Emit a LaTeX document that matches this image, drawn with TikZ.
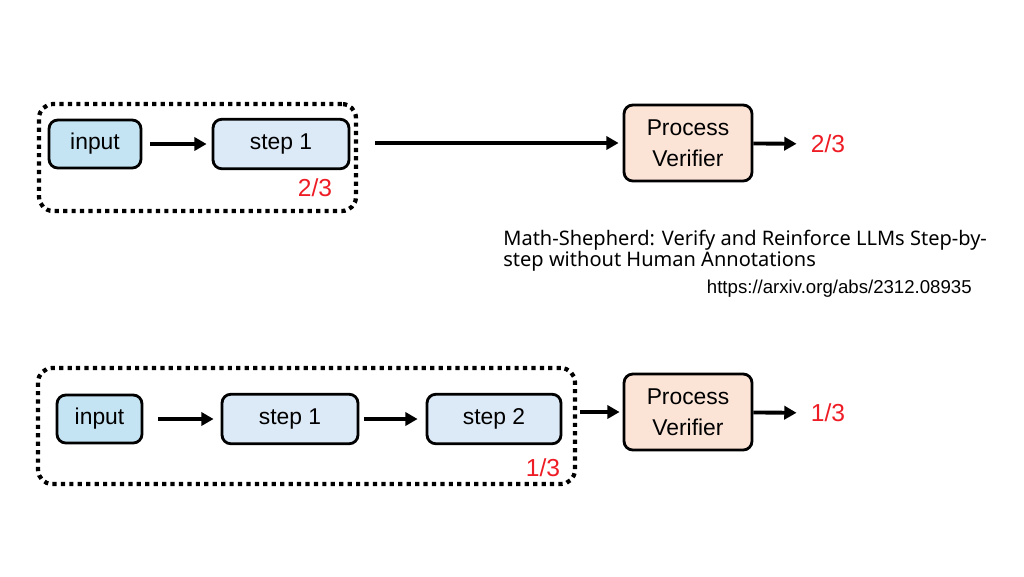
\documentclass[tikz,border=0pt]{standalone}
\usepackage{fontspec}
\setmainfont{Liberation Sans}
\newfontfamily\notefont{Noto Sans}
\usetikzlibrary{arrows.meta}
\usepackage{xcolor}
\definecolor{inputblue}{HTML}{C5E4F3}
\definecolor{stepblue}{HTML}{DCE9F6}
\definecolor{verifpeach}{HTML}{FBE3D6}
\definecolor{scorered}{HTML}{EE1C25}

\begin{document}
\begin{tikzpicture}[%
    x=0.02cm, y=-0.02cm,
    box/.style = {draw, line width=1.6pt, rounded corners=5pt, inner sep=0pt,
        font=\fontsize{13}{15}\selectfont},
    inputbox/.style = {box, fill=inputblue, minimum height=0.96cm},
    stepbox/.style = {box, fill=stepblue, minimum width=2.72cm, minimum height=0.99cm},
    verifier/.style = {box, fill=verifpeach, minimum width=2.56cm, minimum height=1.52cm,
        align=center, font=\fontsize{13}{17.5}\selectfont},
    group/.style = {draw, line width=2.4pt, dash pattern=on 2.4pt off 2.4pt,
        rounded corners=8pt, inner sep=0pt},
    score/.style = {text=scorered, inner sep=0pt, font=\fontsize{14}{16}\selectfont},
    every edge/.style = {draw, line width=2.2pt, -{Triangle[length=7pt, width=7.5pt]}}
]
\useasboundingbox (0,0) rectangle (1024,576);

% first run: one step
\node (grp1) [group, minimum width=6.34cm, minimum height=2.14cm] at (197.5,157.5) {};
\node (in1) [inputbox, minimum width=1.84cm] at (95,144) {input};
\node (st1) [stepbox] at (281,144) {step 1};
\node (sc1) [score] at (315,188) {2/3};
\node (pv1) [verifier] at (688,143) {Process\\Verifier};
\node (out1) [score] at (828,144) {2/3};

% second run: two steps
\node (grp2) [group, minimum width=10.74cm, minimum height=2.32cm] at (306.5,426) {};
\node (in2) [inputbox, minimum width=1.7cm] at (99.5,419) {input};
\node (st2a) [stepbox] at (290,419) {step 1};
\node (st2b) [stepbox, minimum width=2.68cm] at (494,419) {step 2};
\node (sc2) [score] at (543,468) {1/3};
\node (pv2) [verifier] at (688,412) {Process\\Verifier};
\node (out2) [score] at (828,413) {1/3};

\node (paper) [anchor=north west, align=left, inner sep=0pt,
    font=\notefont\fontsize{11.4}{11.6}\selectfont] at (503,230)
    {Math-Shepherd: Verify and Reinforce LLMs Step-by-\\step without Human Annotations};
\node (url) [anchor=east, inner sep=0pt, font=\fontsize{10.6}{12}\selectfont] at (972,289)
    {https://arxiv.org/abs/2312.08935};

\path
    (in1) edge [shorten <=0.16cm, shorten >=0.1cm] (st1)
    (grp1.east |- pv1) edge [shorten <=0.34cm, shorten >=0.08cm] (pv1)
    (pv1) edge [shorten >=0.28cm] (out1)
    (in2) edge [shorten <=0.3cm, shorten >=0.14cm] (st2a)
    (st2a) edge [shorten <=0.1cm, shorten >=0.16cm] (st2b)
    (grp2.east |- pv2) edge [shorten <=0.06cm, shorten >=0.06cm] (pv2)
    (pv2) edge [shorten >=0.28cm] (out2)
    ;
\end{tikzpicture}
\end{document}
